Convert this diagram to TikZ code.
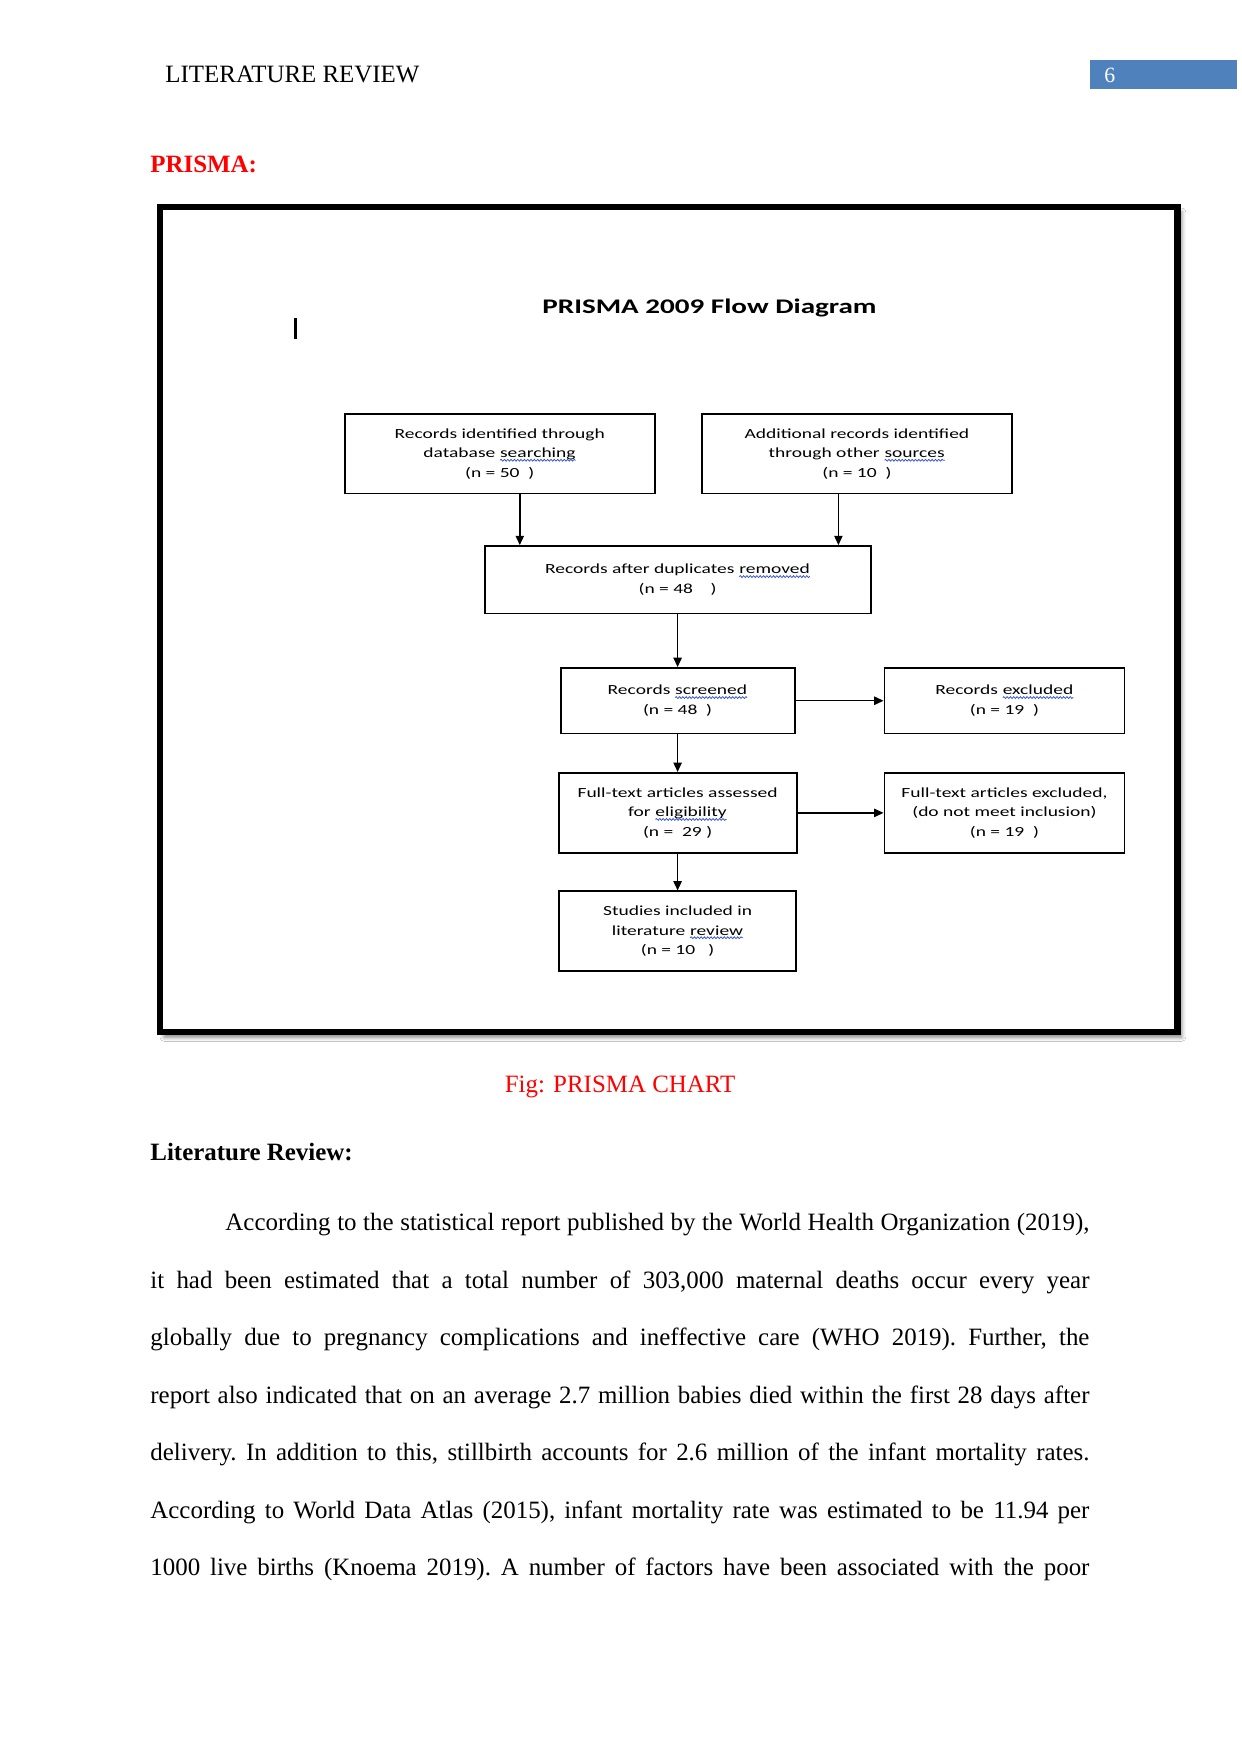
\documentclass[tikz,border=0pt]{standalone}
\usepackage{fontspec}
\setmainfont{Liberation Serif}
\newfontfamily\prismafont[FakeStretch=1.4]{Carlito}
\usetikzlibrary{arrows.meta, positioning, calc, shadows.blur, decorations.pathmorphing}
\definecolor{headerblue}{HTML}{4F81BD}
\definecolor{spellblue}{HTML}{3050D0}
\definecolor{captionred}{HTML}{FF0000}

\newcommand\spellwave[1]{\tikz[baseline=(sw.base)]{\node[inner sep=0pt, outer sep=0pt, minimum size=0pt, draw=none, fill=none] (sw) {#1};
  \draw[spellblue, line width=0.35pt, decorate, decoration={snake, amplitude=0.45pt, segment length=1.6pt}]
    ([yshift=-1.3pt]sw.base west) -- ([yshift=-1.3pt]sw.base east);}}

\begin{document}
\begin{tikzpicture}[
    x=0.016922cm, y=-0.016922cm,
    prismabox/.style={draw, line width=0.9pt, align=center, inner sep=0pt,
      font=\prismafont\fontsize{6.7}{9.4}\selectfont},
    plaintext/.style={inner sep=0pt, font=\fontsize{12}{14}\selectfont},
    frame/.style={draw, line width=3.3pt, fill=white},
    arrow/.style={-{Triangle[length=4.5pt, width=4pt]}, line width=0.7pt}
]
\useasboundingbox (0,0) rectangle (1241,1754);
\fill[white] (0,0) rectangle (1241,1754);

% Running head
\node[plaintext, anchor=base west] (runhead) at (165,83) {LITERATURE REVIEW};
\fill[headerblue] (1090,60) rectangle (1237,89);
\node[plaintext, anchor=base west, text=white, font=\fontsize{10.5}{12}\selectfont] (pagenum) at (1104,82.5) {6};

% Heading
\node[plaintext, anchor=base west, font=\fontsize{12}{14}\selectfont\bfseries, text=captionred] (prismahead) at (150,172.5) {PRISMA:};

% Frame
\draw[frame, blur shadow={shadow xshift=2pt, shadow yshift=-2.5pt, shadow blur radius=2pt, shadow opacity=50}]
  (160,207) rectangle (1177.5,1032);

% Title
\node[inner sep=0pt, anchor=base, font=\prismafont\bfseries\fontsize{10}{12}\selectfont] (title) at (709.5,313.3) {PRISMA 2009 Flow Diagram};
\draw[line width=1.2pt] (295.5,318) -- (295.5,339);

% Identification
\node[prismabox, minimum width=5.246cm, minimum height=1.345cm] (dbsearch) at (499.7,453.7)
  {Records identified through\\database \spellwave{searching}\\(n = 50 \ )};
\node[prismabox, minimum width=5.246cm, minimum height=1.345cm, right=0.767cm of dbsearch] (othersrc)
  {Additional records identified\\through other \spellwave{sources}\\(n = 10 \ )};

% Duplicates
\node[prismabox, minimum width=6.532cm, minimum height=1.142cm] (dedup) at (677.6,579.8)
  {Records after duplicates \spellwave{removed}\\(n = 48 \ \ \ )};

% Screening
\node[prismabox, minimum width=3.96cm, minimum height=1.108cm, below=0.89cm of dedup] (screened)
  {Records \spellwave{screened}\\(n = 48 \ )};
\node[prismabox, minimum width=4.061cm, minimum height=1.108cm, right=1.489cm of screened] (excluded)
  {Records \spellwave{excluded}\\(n = 19 \ )};

% Eligibility
\node[prismabox, minimum width=4.027cm, minimum height=1.354cm, below=0.635cm of screened] (fulltext)
  {Full-text articles assessed\\for \spellwave{eligibility}\\(n = \ 29 )};
\node[prismabox, minimum width=4.061cm, minimum height=1.354cm, right=1.455cm of fulltext] (ftexcluded)
  {Full-text articles excluded,\\(do not meet inclusion)\\(n = 19 \ )};

% Included
\node[prismabox, minimum width=4.01cm, minimum height=1.345cm, below=0.62cm of fulltext] (included)
  {Studies included in\\literature \spellwave{review}\\(n = 10 \ \ )};

% Arrows
\coordinate (dbout) at ([xshift=0.34cm]dbsearch.south);
\coordinate (otherout) at ([xshift=-0.313cm]othersrc.south);
\draw[arrow] (dbout) -- (dbout |- dedup.north);
\draw[arrow] (otherout) -- (otherout |- dedup.north);
\draw[arrow] (dedup) -- (screened);
\draw[arrow] (screened) -- (excluded);
\draw[arrow] (screened) -- (fulltext);
\draw[arrow] (fulltext) -- (ftexcluded);
\draw[arrow] (fulltext) -- (included);

% Caption and text
\node[plaintext, anchor=base, text=captionred] (caption) at (620,1092.7) {Fig: PRISMA CHART};
\node[plaintext, anchor=base west, font=\fontsize{12}{14}\selectfont\bfseries] (lithead) at (150,1160.7) {Literature Review:};
\node[plaintext, anchor=base west, text width=15.89cm, align=justify, font=\fontsize{12}{27.7}\selectfont] (para) at (150,1230.7)
  {\parindent=0pt\parfillskip=0pt\hyphenpenalty=10000\frenchspacing\hspace*{1.27cm}According to the statistical report published by the World Health Organization (2019),\linebreak
  it had been estimated that a total number of 303,000 maternal deaths occur every year\linebreak
  globally due to pregnancy complications and ineffective care (WHO 2019). Further, the\linebreak
  report also indicated that on an average 2.7 million babies died within the first 28 days after\linebreak
  delivery. In addition to this, stillbirth accounts for 2.6 million of the infant mortality rates.\linebreak
  According to World Data Atlas (2015), infant mortality rate was estimated to be 11.94 per\linebreak
  1000 live births (Knoema 2019). A number of factors have been associated with the poor\par};

\end{tikzpicture}
\end{document}
